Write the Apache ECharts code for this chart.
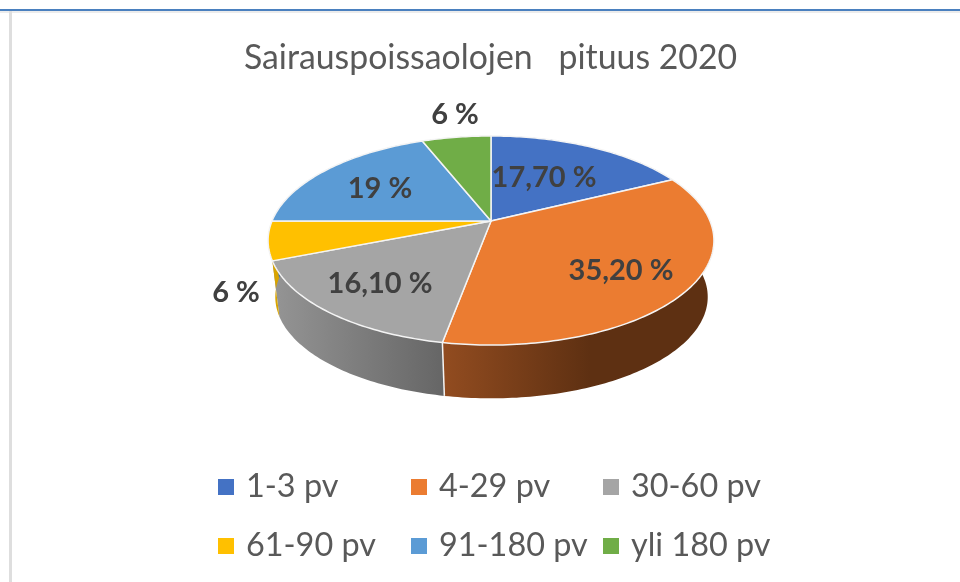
<!DOCTYPE html>
<html><head><meta charset="utf-8">
<style>html,body{margin:0;padding:0;background:#fff}#c{width:960px;height:582px}</style>
<script src="https://cdn.jsdelivr.net/npm/echarts@6/dist/echarts.min.js"></script>
</head><body><div id="c"></div>
<script>
const categories = ['1-3 pv','4-29 pv','30-60 pv','61-90 pv','91-180 pv','yli 180 pv'];
const values = [17.7,35.2,16.1,6,19,6];
const valueLabels = ['17,70 %','35,20 %','16,10 %','6 %','19 %','6 %'];
const colors = ['#4472c4','#eb7c31','#a5a5a5','#ffc000','#5b9bd5','#70ad47'];
const labelPositions = [[544,178],[621,271],[380,284],[236,293],[380,189],[455,115]];
const legendColumns = [[0,3],[1,4],[2,5]];
const legendLefts = [213,406,598];

const GEO = {cx:491, cy:221, rx:219, ry:100.9, k:0.1866, cxBottom:491.5, cyBottom:278, scaleBottom:0.97};
function proj(turn, bottom){
  const t = turn*2*Math.PI, u = Math.sin(t), v = -Math.cos(t), d = 1-GEO.k*v;
  const s = bottom ? GEO.scaleBottom : 1, cy = bottom ? GEO.cyBottom : GEO.cy, cx = bottom ? GEO.cxBottom : GEO.cx;
  return [cx + s*GEO.rx*u/d, cy + s*GEO.ry*v/d];
}
function rim(a,b,bottom){
  const n = Math.max(2,Math.ceil((b-a)*360)), p=[];
  for(let i=0;i<=n;i++) p.push(proj(a+(b-a)*i/n,bottom));
  return p;
}
const total = values.reduce((s,v)=>s+v,0);
let acc = 0;
const ranges = values.map(v=>{const r=[acc/total,(acc+v)/total];acc+=v;return r;});
const grad = (x1,x2,c1,c2)=>({type:'linear',global:true,x:x1,y:0,x2:x2,y2:0,colorStops:[{offset:0,color:c1},{offset:1,color:c2}]});
const wallFill = [
  '#2f5597',
  grad(443,590,'#924c20','#5e3012'),
  grad(275,443,'#949494','#666666'),
  '#d8a400','#3f76a8','#4f7f32'
];
const series = categories.map((name,i)=>({
  type:'custom', name, coordinateSystem:'none', silent:true,
  itemStyle:{color:colors[i]},
  data:[ranges[i]],
  renderItem(params,api){
    const a=api.value(0), b=api.value(1);
    const top=rim(a,b,false);
    const kids=[
      {type:'polygon',z2:1,shape:{points:top.concat(rim(a,b,true).reverse())},style:{fill:wallFill[i]}},
      {type:'polygon',z2:3,shape:{points:[[GEO.cx,GEO.cy]].concat(top)},
       style:{fill:colors[i],stroke:'#f4f4f4',lineWidth:1.5,lineJoin:'round'}},
      {type:'text',z2:4,style:{x:labelPositions[i][0],y:labelPositions[i][1],text:valueLabels[i],
        fill:'#404040',font:'bold 29px Lato',align:'center',verticalAlign:'middle'}}
    ];
    if(b>0.3&&b<0.65){
      const p=proj(b,false),q=proj(b,true);
      kids.push({type:'line',z2:2,shape:{x1:p[0],y1:p[1],x2:q[0],y2:q[1]},style:{stroke:'#f4f4f4',lineWidth:1.5}});
    }
    return {type:'group',children:kids};
  }
}));
const chart = echarts.init(document.getElementById('c'),null,{renderer:'canvas'});
chart.setOption({
  animation:false,
  backgroundColor:'#fff',
  title:{text:'Sairauspoissaolojen   pituus 2020',left:485.5,top:36,textAlign:'center',
    textStyle:{fontFamily:'Lato',fontWeight:'normal',fontSize:33.8,color:'#595959'}},
  legend:legendColumns.map((col,j)=>({
    left:legendLefts[j],top:466,orient:'vertical',itemWidth:16,itemHeight:16,itemGap:27,icon:'rect',
    selectedMode:false,data:col.map(i=>categories[i]),
    textStyle:{fontFamily:'Lato',fontSize:32.4,color:'#595959',padding:[0,0,0,7]}
  })),
  graphic:[
    {type:'rect',z:-1,shape:{x:0,y:9,width:960,height:2},style:{fill:'#4a80bf'}},
    {type:'rect',z:-1,shape:{x:0,y:11,width:960,height:2},style:{fill:'#ececec'}},
    {type:'rect',z:-1,shape:{x:9,y:11,width:3,height:571},style:{fill:'#dedede'}}
  ],
  series
});
</script></body></html>
